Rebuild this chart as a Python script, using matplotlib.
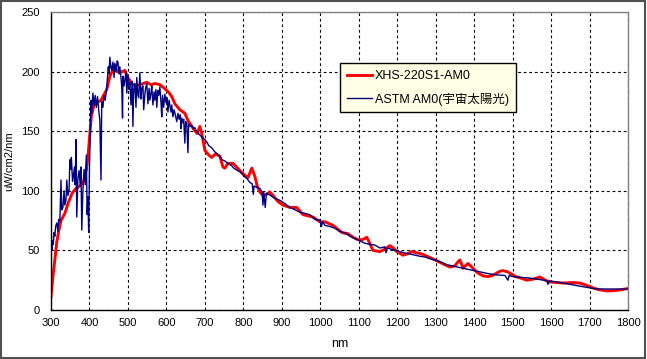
import matplotlib
matplotlib.use("Agg")
import matplotlib.pyplot as plt
from matplotlib.patches import Rectangle

# XHS-220S1-AM0 (simulator)
xhs_nm = [300, 305, 310, 315, 320, 326, 336, 345, 355, 365, 375, 385, 392, 396, 401, 405,
          412, 420, 430, 445, 453, 466, 472, 479, 492, 500, 510, 520, 531, 549, 560, 570,
          583, 591, 605, 614, 622, 635, 648, 656, 668, 680, 687, 692, 700, 710, 718, 728,
          739, 747, 752, 760, 773, 782, 791, 804, 812, 822, 830, 836, 843, 851, 860, 869,
          880, 890, 903, 921, 939, 947, 955, 968, 981, 990, 999, 1012, 1033, 1045, 1056,
          1072, 1085, 1098, 1110, 1121, 1130, 1137, 1155, 1168, 1181, 1190, 1199, 1215,
          1226, 1238, 1250, 1264, 1285, 1298, 1311, 1324, 1337, 1350, 1357, 1363, 1368,
          1371, 1377, 1384, 1391, 1397, 1406, 1415, 1425, 1436, 1448, 1459, 1467, 1475,
          1487, 1498, 1508, 1519, 1537, 1555, 1571, 1585, 1597, 1615, 1631, 1655, 1675,
          1690, 1709, 1725, 1745, 1765, 1779, 1790, 1800]
xhs_val = [11, 28, 42, 57, 66, 75, 81, 90, 98, 102, 104, 108, 118, 128, 148, 163,
           172, 174, 176, 185, 196, 205, 200, 199, 201, 195, 190, 188, 189, 191, 189, 190,
           189, 187, 183, 179, 173, 168, 165, 159, 153, 148, 154, 148, 134, 130, 128, 131,
           129, 120, 119, 123, 123, 120, 117, 113, 111, 119, 112, 104, 99, 96, 97, 99,
           95, 91, 88, 86, 86, 83, 80, 79, 78, 76, 74, 74, 71, 68, 65,
           64, 61, 59, 59, 61, 55, 50, 49, 51, 54, 52, 49, 46,
           47, 49, 48, 47, 44, 42, 40, 38, 36, 37, 40, 42, 38,
           35, 37, 39, 37, 35, 32, 30, 28.5, 28, 29, 31, 32.5, 33,
           32, 30, 28, 27, 25, 26, 27.7, 25, 23.5, 23, 22.6, 23, 22.6,
           21, 18.5, 17, 16, 16.3, 16.8, 17.5, 18]

# ASTM AM0 reference spectrum
astm_nm = [300, 301, 302, 304, 306, 308, 310, 312, 315, 318, 320, 323, 326, 328, 331, 334,
           336, 339, 341, 344, 347, 349, 351, 353, 356, 358, 361, 363, 365, 367, 370, 373,
           376, 378, 380, 383, 386, 389, 392, 394, 396, 398, 400, 402, 404, 406, 409, 412,
           415, 418, 421, 424, 427, 430, 432, 435, 438, 441, 445, 447, 449, 451, 453, 456,
           458, 461, 464, 466, 469, 472, 474, 477, 479, 482, 484, 486, 487, 490, 492, 495,
           497, 500, 503, 505, 508, 511, 513, 515, 518, 521, 523, 526, 528, 531, 534, 536,
           539, 541, 544, 546, 549, 552, 555, 557, 560, 562, 565, 568, 570, 573, 575, 578,
           580, 583, 586, 588, 590, 593, 596, 599, 602, 604, 607, 610, 612, 614, 617, 620,
           623, 627, 630, 633, 636, 638, 640, 643, 645, 648, 650, 653, 656, 658, 662, 666,
           670, 674, 678, 682, 686, 690, 695, 700, 705, 710, 718, 725, 732, 739, 745, 752,
           760, 765, 770, 775, 780, 785, 791, 797, 803, 810, 817, 823, 826, 828, 835, 843,
           849, 851, 853, 857, 860, 865, 869, 880, 895, 905, 921, 935, 947, 960, 973, 986,
           999, 1003, 1006, 1012, 1025, 1038, 1050, 1064, 1077, 1090, 1103, 1116, 1130,
           1142, 1155, 1168, 1171, 1174, 1180, 1194, 1207, 1220, 1233, 1246, 1260, 1272,
           1285, 1298, 1315, 1329, 1350, 1371, 1393, 1415, 1437, 1459, 1480, 1488, 1491,
           1501, 1523, 1545, 1567, 1589, 1592, 1595, 1610, 1631, 1653, 1675, 1697, 1719,
           1740, 1761, 1780, 1800]
astm_val = [45, 62, 50, 58, 55, 65, 62, 70, 73, 66, 76, 74, 109, 84, 86, 100,
            88, 92, 109, 96, 100, 126, 118, 128, 108, 112, 120, 105, 143, 78, 110, 117,
            105, 120, 67, 100, 118, 105, 130, 80, 95, 65, 120, 148, 176, 165, 182, 172,
            180, 170, 179, 168, 159, 109, 175, 170, 180, 176, 187, 195, 204, 198, 212, 203,
            201, 208, 195, 207, 200, 209, 208, 198, 204, 195, 187, 161, 196, 188, 193, 200,
            182, 197, 185, 191, 172, 192, 154, 185, 190, 170, 195, 180, 178, 199, 177, 186,
            188, 168, 181, 186, 190, 173, 186, 176, 182, 188, 172, 183, 176, 185, 170, 184,
            180, 187, 174, 162, 180, 170, 181, 174, 178, 166, 176, 170, 166, 172, 162, 168,
            164, 158, 165, 160, 164, 152, 161, 157, 160, 140, 158, 157, 132, 156, 154, 155,
            152, 153, 150, 149, 147, 146, 144, 143, 141, 138, 136, 133, 131, 129, 126, 125,
            123, 122, 121, 119, 118, 117, 116, 114, 112, 110, 107, 106, 97, 104, 103, 102,
            99, 88, 99, 86, 98, 97, 96.5, 94, 92, 90, 86, 84, 82, 81, 80, 76,
            75.5, 70, 74, 71, 70, 68.6, 66, 64.6, 62, 60, 58, 56, 55,
            54.5, 52, 53, 48, 52, 51.5, 50, 49, 47.8, 47, 46, 45, 44.5,
            43, 42, 40, 38, 36.5, 35, 33.5, 32, 30.5, 29.4, 29, 25, 29,
            28, 27.3, 26.8, 25.7, 24.6, 21.5, 24.5, 23.6, 22.6, 21.3, 20, 18.8, 17.6,
            17.6, 17.6, 17.6, 17.6]

x_ticks = list(range(300, 1801, 100))
y_ticks = list(range(0, 251, 50))

plt.rcParams['font.family'] = ['Liberation Sans', 'Noto Sans CJK JP', 'DejaVu Sans']

fig = plt.figure(figsize=(6.47, 3.59), dpi=100)
ax = fig.add_axes([0.0788, 0.1365, 0.8918, 0.8301])

ax.plot(xhs_nm, xhs_val, color='#FF0000', lw=2.1, label='XHS-220S1-AM0')
ax.plot(astm_nm, astm_val, color='#000080', lw=1.0, label='ASTM AM0(宇宙太陽光)')

ax.set_xlim(300, 1800)
ax.set_ylim(0, 250)
ax.set_xticks(x_ticks)
ax.set_yticks(y_ticks)
ax.tick_params(length=0, labelsize=8)
ax.tick_params(axis='x', pad=6)
ax.tick_params(axis='y', pad=8)
ax.grid(True, color='black', linestyle=(0, (2.5, 2.5)), lw=0.8)

for s in ['left', 'bottom']:
    ax.spines[s].set_color('black')
    ax.spines[s].set_linewidth(1.0)
for s in ['top', 'right']:
    ax.spines[s].set_color('#808080')
    ax.spines[s].set_linewidth(1.0)

ax.set_xlabel('nm', fontsize=9, labelpad=7)
ax.set_ylabel('uW/cm2/nm', fontsize=8)
ax.yaxis.set_label_coords(-0.064, 0.5)

leg = ax.legend(loc='upper left', bbox_to_anchor=(0.5255, 0.8245), bbox_transform=fig.transFigure,
                borderaxespad=0, fontsize=9, handlelength=2.0, handletextpad=0.25,
                labelspacing=0.85, fancybox=False, framealpha=1, borderpad=0.55)
leg.get_frame().set_edgecolor('black')
leg.get_frame().set_facecolor('#FFFFE6')
leg.get_frame().set_linewidth(1.0)

fig.patches.append(Rectangle((0.002, 0.003), 0.995, 0.994, transform=fig.transFigure,
                             fill=False, edgecolor='#505050', lw=1.5))

fig.savefig('out.png', dpi=100)
